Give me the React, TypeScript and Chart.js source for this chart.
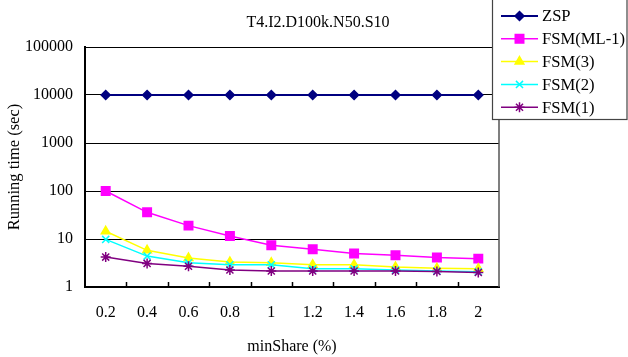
import React, { useEffect, useRef } from "react";
import { Chart, registerables } from "chart.js";
import { drawPoint } from "chart.js/helpers";

Chart.register(...registerables);

const categories = ["0.2", "0.4", "0.6", "0.8", "1", "1.2", "1.4", "1.6", "1.8", "2"];
const zsp = [10000, 10000, 10000, 10000, 10000, 10000, 10000, 10000, 10000, 10000];
const fsmMl1 = [100, 36, 19, 11.5, 7.4, 6.1, 5.0, 4.6, 4.1, 3.9];
const fsm3 = [14.5, 5.8, 4.0, 3.3, 3.2, 2.9, 2.9, 2.6, 2.45, 2.4];
const fsm2 = [9.8, 4.4, 3.2, 2.9, 2.9, 2.4, 2.4, 2.26, 2.15, 2.08];
const fsm1 = [4.2, 3.1, 2.7, 2.26, 2.15, 2.15, 2.15, 2.15, 2.1, 2.0];
const yTicks = [1, 10, 100, 1000, 10000, 100000];

const titleText = "T4.I2.D100k.N50.S10";
const FONT = '"Liberation Serif", "Times New Roman", serif';

const extrasPlugin = {
  id: "extras",
  afterDatasetsDraw(chart: any) {
    const { ctx, chartArea } = chart;
    const xs = chart.scales.x;
    ctx.save();
    ctx.strokeStyle = "#000";
    ctx.lineWidth = 1.5;
    const n = categories.length;
    const w = (xs.right - xs.left) / n;
    for (let i = 1; i < n; i++) {
      const x = Math.round(xs.left + i * w) + 0.5;
      ctx.beginPath();
      ctx.moveTo(x, chartArea.bottom);
      ctx.lineTo(x, chartArea.bottom - 5);
      ctx.stroke();
    }
    ctx.strokeStyle = "#555";
    ctx.lineWidth = 1.5;
    ctx.beginPath();
    ctx.moveTo(chartArea.right, chartArea.top);
    ctx.lineTo(chartArea.right, chartArea.bottom);
    ctx.stroke();
    ctx.restore();
  },
  afterDraw(chart: any) {
    const { ctx } = chart;
    ctx.save();
    ctx.fillStyle = "#000";
    ctx.font = `16px ${FONT}`;
    ctx.textAlign = "center";
    ctx.textBaseline = "middle";
    ctx.fillText(titleText, 318, 23);
    ctx.fillStyle = "#fff";
    ctx.fillRect(492, -1, 136, 121);
    ctx.strokeStyle = "#444";
    ctx.lineWidth = 1.2;
    ctx.strokeRect(492.5, -1, 134.5, 120.5);
    ctx.textAlign = "left";
    chart.data.datasets.forEach((ds: any, i: number) => {
      const y = 16 + i * 22.8;
      ctx.strokeStyle = ds.borderColor;
      ctx.lineWidth = ds.borderWidth;
      ctx.beginPath();
      ctx.moveTo(501, y);
      ctx.lineTo(538, y);
      ctx.stroke();
      ctx.fillStyle = ds.pointBackgroundColor;
      ctx.strokeStyle = ds.pointBorderColor;
      ctx.lineWidth = ds.pointBorderWidth;
      drawPoint(ctx, { pointStyle: ds.pointStyle, radius: ds.pointRadius, borderWidth: ds.pointBorderWidth, rotation: 0 }, 519.5, y);
      ctx.fillStyle = "#000";
      ctx.font = `16.6px ${FONT}`;
      ctx.fillText(ds.label, 542, y + 1);
    });
    ctx.restore();
  },
};

export default function App() {
  const ref = useRef<HTMLCanvasElement>(null);
  useEffect(() => {
    const mk = (label: string, data: number[], color: string, style: string, r: number, bw: number, order: number, fill?: string) => ({
      label,
      data,
      borderColor: color,
      backgroundColor: fill || color,
      borderWidth: bw,
      pointStyle: style,
      pointRadius: r,
      pointHoverRadius: r,
      pointBackgroundColor: fill || color,
      pointBorderColor: color,
      pointBorderWidth: 1.5,
      tension: 0,
      order,
    });
    const chart = new Chart(ref.current!, {
      type: "line",
      data: {
        labels: categories,
        datasets: [
          mk("ZSP", zsp, "#000080", "rectRot", 4.5, 2, 4),
          mk("FSM(ML-1)", fsmMl1, "#FF00FF", "rect", 6, 1.5, 3),
          mk("FSM(3)", fsm3, "#FFFF00", "triangle", 5, 1.5, 2),
          mk("FSM(2)", fsm2, "#00FFFF", "crossRot", 5, 1.5, 1),
          mk("FSM(1)", fsm1, "#800080", "star", 5, 1.5, 0),
        ] as any,
      },
      options: {
        animation: false,
        responsive: false,
        layout: { padding: { left: 0, right: 129, top: 47, bottom: 0 } },
        plugins: { legend: { display: false }, title: { display: false }, tooltip: { enabled: false } },
        scales: {
          x: {
            type: "category",
            offset: true,
            afterFit: (s: any) => { s.height = 70; },
            grid: { display: false, drawTicks: false },
            border: { display: true, color: "#000", width: 2 },
            ticks: { color: "#000", font: { family: FONT, size: 16 }, padding: 16, maxRotation: 0, autoSkip: false },
            title: { display: true, text: "minShare (%)", color: "#000", font: { family: FONT, size: 16 }, padding: { top: 0, bottom: 1 } },
          },
          y: {
            type: "logarithmic",
            min: 1,
            max: 100000,
            afterFit: (s: any) => { s.width = 85; },
            afterBuildTicks: (s: any) => { s.ticks = yTicks.map((v) => ({ value: v })); },
            grid: { color: "#000", lineWidth: 1, drawTicks: false },
            border: { display: true, color: "#000", width: 2 },
            ticks: { color: "#000", font: { family: FONT, size: 16 }, padding: 12, autoSkip: false, callback: (v: any) => String(v) },
            title: { display: true, text: "Running time (sec)", color: "#000", font: { family: FONT, size: 16.5 }, padding: { top: 5, bottom: 0 } },
          },
        },
      } as any,
      plugins: [extrasPlugin],
    });
    return () => chart.destroy();
  }, []);
  return (
    <div style={{ position: "fixed", left: 0, top: 0, width: 628, height: 357, background: "#fff" }}>
      <canvas ref={ref} width={628} height={357} />
    </div>
  );
}
